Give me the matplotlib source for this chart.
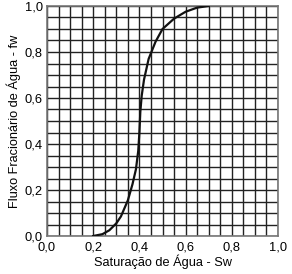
import matplotlib
matplotlib.use("Agg")
import matplotlib.pyplot as plt
import numpy as np

plt.rcParams['font.family'] = ['Liberation Sans', 'DejaVu Sans']

sw = [0.20, 0.24, 0.27, 0.30, 0.32, 0.35, 0.37, 0.385, 0.395, 0.40, 0.404,
      0.41, 0.42, 0.44, 0.47, 0.50, 0.55, 0.60, 0.65, 0.70]
fw = [0.0, 0.008, 0.025, 0.055, 0.085, 0.155, 0.225, 0.29, 0.37, 0.45, 0.54,
      0.61, 0.68, 0.77, 0.845, 0.90, 0.945, 0.975, 0.993, 1.0]

tick_vals = [0.0, 0.2, 0.4, 0.6, 0.8, 1.0]
tick_labels = ["0,0", "0,2", "0,4", "0,6", "0,8", "1,0"]

fig = plt.figure(figsize=(2.92, 2.74), dpi=100)
ax = fig.add_axes([47/292, 1 - 236/274, (278-47)/292, (236-6)/274])

ax.set_xlim(0, 1)
ax.set_ylim(0, 1)
ax.set_xticks(tick_vals)
ax.set_xticklabels(tick_labels)
ax.set_yticks(tick_vals)
ax.set_yticklabels(tick_labels)
ax.set_xticks(np.arange(0, 1.0001, 0.05), minor=True)
ax.set_yticks(np.arange(0, 1.0001, 0.05), minor=True)
ax.grid(which='both', color='#222222', linewidth=1.0)
ax.tick_params(which='both', length=0)
ax.tick_params(axis='x', pad=4, labelsize=9.3)
ax.tick_params(axis='y', pad=3, labelsize=9.3)
for s in ax.spines.values():
    s.set_color('#777777')
    s.set_linewidth(1.2)

ax.plot(sw, fw, color='#111111', linewidth=1.6, zorder=3)

ax.set_xlabel("Saturação de Água - Sw", fontsize=9.2, labelpad=1)
ax.set_ylabel("Fluxo Fracionário de Água - fw", fontsize=9.2, labelpad=3)

fig.savefig("out.png", dpi=100)
